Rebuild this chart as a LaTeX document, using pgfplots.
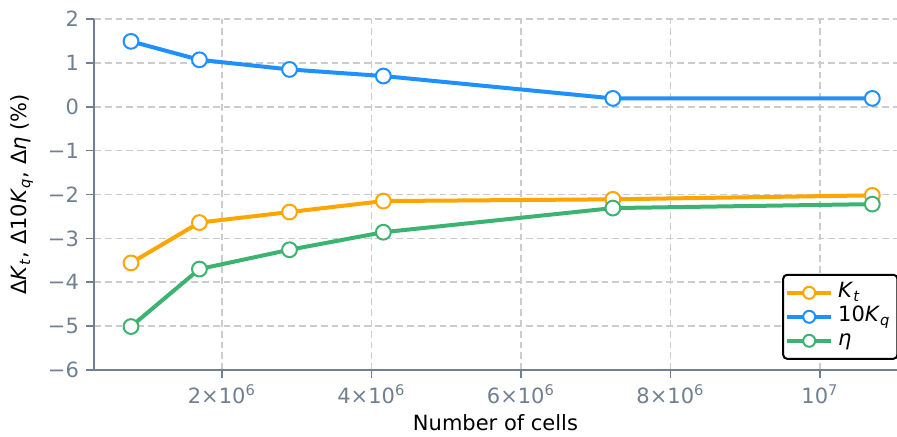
\documentclass[border=0pt]{standalone}
\usepackage{pgfplots}
\pgfplotsset{compat=1.18}
\usepackage{fontspec}
\setmainfont{DejaVu Sans}
\definecolor{cOr}{HTML}{FFA500}
\definecolor{cBl}{HTML}{1E90FF}
\definecolor{cGr}{HTML}{3CB371}
\definecolor{cAx}{HTML}{708090}
\definecolor{cGrid}{HTML}{CCCCCC}
\begin{document}
\begin{tikzpicture}
\begin{axis}[name=ax, scale only axis, width=401.5pt, height=175.5pt,
 xmin=0.29e6, xmax=11.03e6, ymin=-6, ymax=2,
 axis x line*=bottom, axis y line*=left,
 axis line style={cAx, line width=1pt, -},
 xtick={2e6,4e6,6e6,8e6,1e7},
 xticklabels={2×10\textsuperscript{6},4×10\textsuperscript{6},6×10\textsuperscript{6},8×10\textsuperscript{6},10\textsuperscript{7}},
 ytick={-6,-5,-4,-3,-2,-1,0,1,2},
 yticklabels={−6,−5,−4,−3,−2,−1,0,1,2},
 scaled x ticks=false,
 tick style={cAx, line width=0.8pt},
 tick align=outside, major tick length=4pt,
 ticklabel style={font=\fontsize{10.5}{12}\selectfont, text=cAx},
 grid=major, grid style={cGrid, line width=0.8pt, dash pattern=on 3.4pt off 2pt},
 xlabel={Number of cells},
 ylabel={Δ\textit{K}\textsubscript{\textit{t}}, Δ10\textit{K}\textsubscript{\textit{q}}, Δ\textit{η} (\%)},
 label style={font=\fontsize{10.5}{12}\selectfont, text=black},
 xlabel style={at={(axis description cs:0.5,0)}, anchor=center, yshift=-26.5pt},
 ylabel style={at={(axis description cs:-0.0897,0.5)}, anchor=center, rotate=0},
 legend style={at={(0.857,0.274)}, anchor=north west, draw=black, line width=1pt, rounded corners=2pt, fill=white, font=\fontsize{10.5}{12.5}\selectfont, row sep=0pt, inner xsep=1pt, inner ysep=3pt,
   nodes={inner xsep=2.5pt, inner ysep=0.5pt, text height=8pt, text depth=3pt}},
 legend cell align=left,
 legend image code/.code={\draw[mark repeat=2,mark phase=2, mark size=3pt] plot coordinates {(0pt,0pt) (11pt,0pt) (22pt,0pt)};},
 every axis plot/.append style={line width=2pt, mark=*, mark size=3.7pt},
]
\addplot[cOr, mark options={fill=white, draw=cOr, line width=1pt}] coordinates {
 (0.785e6,-3.56) (1.70e6,-2.64) (2.905e6,-2.40) (4.16e6,-2.15) (7.23e6,-2.11) (10.70e6,-2.02)};
\addlegendentry{\textit{K}\textsubscript{\textit{t}}}
\addplot[cBl, mark options={fill=white, draw=cBl, line width=1pt}] coordinates {
 (0.785e6,1.49) (1.70e6,1.07) (2.905e6,0.85) (4.16e6,0.70) (7.23e6,0.19) (10.70e6,0.19)};
\addlegendentry{10\textit{K}\textsubscript{\textit{q}}}
\addplot[cGr, mark options={fill=white, draw=cGr, line width=1pt}] coordinates {
 (0.785e6,-5.01) (1.70e6,-3.70) (2.905e6,-3.26) (4.16e6,-2.86) (7.23e6,-2.31) (10.70e6,-2.22)};
\addlegendentry{\textit{η}}
\end{axis}
\pgfresetboundingbox
\path[use as bounding box] ([xshift=-47pt,yshift=-33.5pt]ax.south west) rectangle ([yshift=9.5pt]ax.north east);
\end{tikzpicture}
\end{document}
